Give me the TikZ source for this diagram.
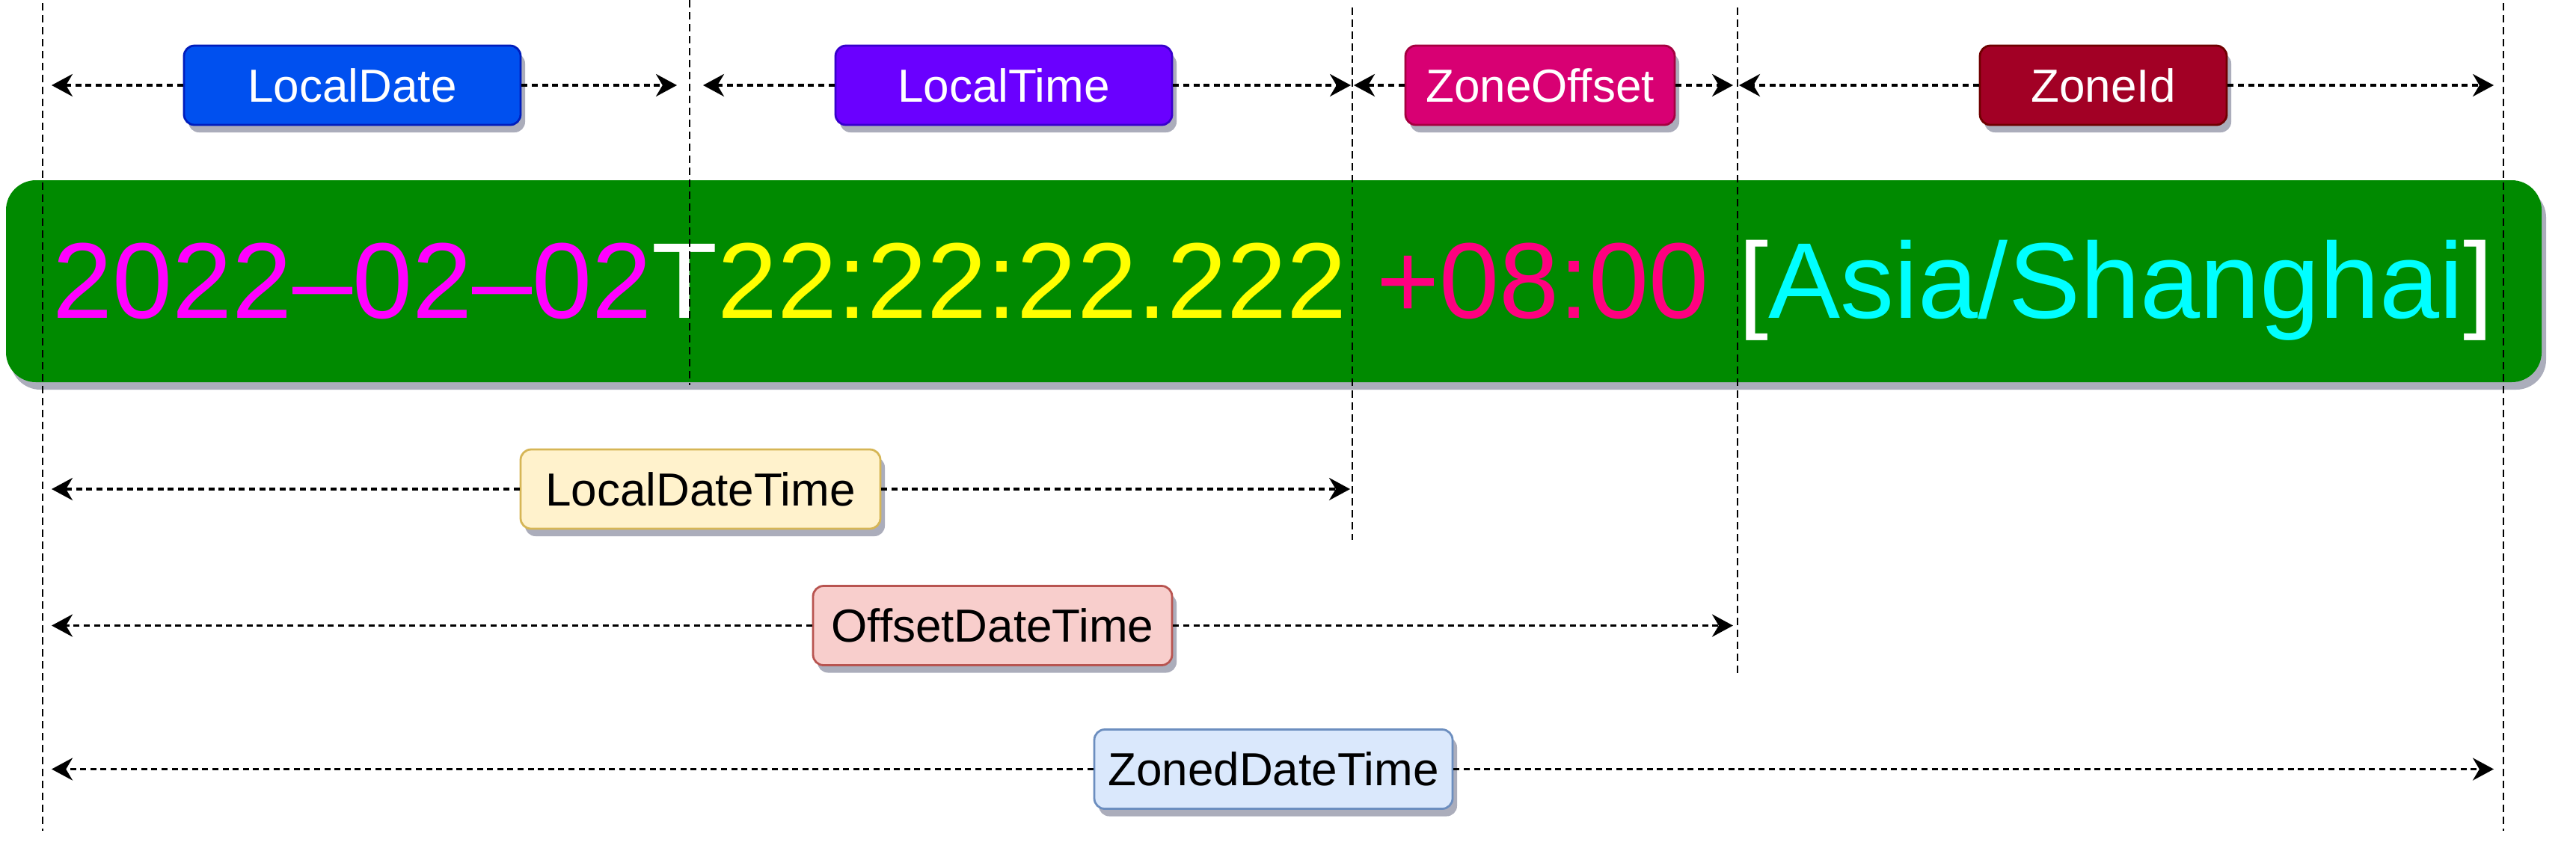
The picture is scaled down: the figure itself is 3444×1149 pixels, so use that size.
\documentclass[tikz,border=0pt]{standalone}
\usepackage{fontspec}
\setmainfont{Liberation Sans}
\usetikzlibrary{arrows.meta,shadows}
\definecolor{barg}{HTML}{008A00}
\definecolor{shadowc}{RGB}{150,152,170}
\definecolor{ldF}{HTML}{0050EF}\definecolor{ldD}{HTML}{001DBC}
\definecolor{ltF}{HTML}{6A00FF}\definecolor{ltD}{HTML}{3700CC}
\definecolor{zoF}{HTML}{D80073}\definecolor{zoD}{HTML}{A50040}
\definecolor{ziF}{HTML}{A20025}\definecolor{ziD}{HTML}{6F0000}
\definecolor{ldtF}{HTML}{FFF2CC}\definecolor{ldtD}{HTML}{D6B656}
\definecolor{odtF}{HTML}{F8CECC}\definecolor{odtD}{HTML}{B85450}
\definecolor{zdtF}{HTML}{DAE8FC}\definecolor{zdtD}{HTML}{6C8EBF}
\definecolor{tMag}{HTML}{FF00FF}
\definecolor{tYel}{HTML}{FFFF00}
\definecolor{tPink}{HTML}{FF0080}
\definecolor{tCyan}{HTML}{00FFFF}
\begin{document}
\begin{tikzpicture}[x=0.25pt,y=-0.25pt,
  vline/.style={draw=black, line width=0.6pt, dash pattern=on 2.6pt off 1.4pt},
  conn/.style={draw=black, line width=0.9pt, dash pattern=on 2pt off 1.4pt,
    -{Stealth[length=7pt,width=7.5pt,inset=2.2pt]}},
  lbl/.style={rounded corners=3.5pt, line width=0.7pt, minimum height=26.5pt,
    inner sep=0pt, font=\fontsize{15.5}{18}\selectfont,
    drop shadow={shadow xshift=1.5pt,shadow yshift=-2.5pt,fill=shadowc,opacity=0.8}},
]
\useasboundingbox (0,0) rectangle (3444,1149);

% green bar
\node[fill=barg, rounded corners=10pt, minimum width=847.5pt, minimum height=67.5pt,
  inner sep=0pt, drop shadow={shadow xshift=1.5pt,shadow yshift=-2.5pt,fill=shadowc,opacity=0.8}]
  (bar) at (1703,376) {};

% main text
\node[anchor=base west, inner sep=0pt, font=\fontsize{36}{40}\selectfont] (main) at (70,425)
  {\textcolor{tMag}{2022–02–02}\textcolor{white}{T}\textcolor{tYel}{22:22:22.222}
   \textcolor{tPink}{+08:00} \textcolor{white}{[}\textcolor{tCyan}{Asia/Shanghai}\textcolor{white}{]}};

% vertical guide lines
\coordinate (v1t) at (57,4);    \coordinate (v1b) at (57,1111);
\coordinate (v2t) at (922,0);   \coordinate (v2b) at (922,515);
\coordinate (v3t) at (1808,10); \coordinate (v3b) at (1808,722);
\coordinate (v4t) at (2323,10); \coordinate (v4b) at (2323,901);
\coordinate (v5t) at (3347,4);  \coordinate (v5b) at (3347,1111);
\draw[vline] (v1t) -- (v1b);
\draw[vline] (v2t) -- (v2b);
\draw[vline] (v3t) -- (v3b);
\draw[vline] (v4t) -- (v4b);
\draw[vline] (v5t) -- (v5b);

% label boxes
\node[lbl, fill=ldF, draw=ldD, text=white, minimum width=112.5pt] (ld) at (471,114) {LocalDate};
\node[lbl, fill=ltF, draw=ltD, text=white, minimum width=112.5pt] (lt) at (1342,114) {LocalTime};
\node[lbl, fill=zoF, draw=zoD, text=white, minimum width=90pt] (zo) at (2059,114) {ZoneOffset};
\node[lbl, fill=ziF, draw=ziD, text=white, minimum width=82.5pt] (zi) at (2812,114) {ZoneId};
\node[lbl, fill=ldtF, draw=ldtD, text=black, minimum width=120.25pt] (ldt) at (936.5,654) {LocalDateTime};
\node[lbl, fill=odtF, draw=odtD, text=black, minimum width=120pt] (odt) at (1327,836.5) {OffsetDateTime};
\node[lbl, fill=zdtF, draw=zdtD, text=black, minimum width=119.75pt] (zdt) at (1702.5,1028.5) {ZonedDateTime};

% arrow end points
\coordinate (ldL) at (69,114);    \coordinate (ldR) at (905,114);
\coordinate (ltL) at (940,114);   \coordinate (ltR) at (1806,114);
\coordinate (zoL) at (1810,114);  \coordinate (zoR) at (2317,114);
\coordinate (ziL) at (2325,114);  \coordinate (ziR) at (3334,114);
\coordinate (ldtL) at (69,654);   \coordinate (ldtR) at (1805,654);
\coordinate (odtL) at (69,836.5); \coordinate (odtR) at (2317,836.5);
\coordinate (zdtL) at (69,1028.5);\coordinate (zdtR) at (3334,1028.5);

\draw[conn] (ld.west) -- (ldL);   \draw[conn] (ld.east) -- (ldR);
\draw[conn] (lt.west) -- (ltL);   \draw[conn] (lt.east) -- (ltR);
\draw[conn] (zo.west) -- (zoL);   \draw[conn] (zo.east) -- (zoR);
\draw[conn] (zi.west) -- (ziL);   \draw[conn] (zi.east) -- (ziR);
\draw[conn] (ldt.west) -- (ldtL); \draw[conn] (ldt.east) -- (ldtR);
\draw[conn] (odt.west) -- (odtL); \draw[conn] (odt.east) -- (odtR);
\draw[conn] (zdt.west) -- (zdtL); \draw[conn] (zdt.east) -- (zdtR);
\end{tikzpicture}
\end{document}
